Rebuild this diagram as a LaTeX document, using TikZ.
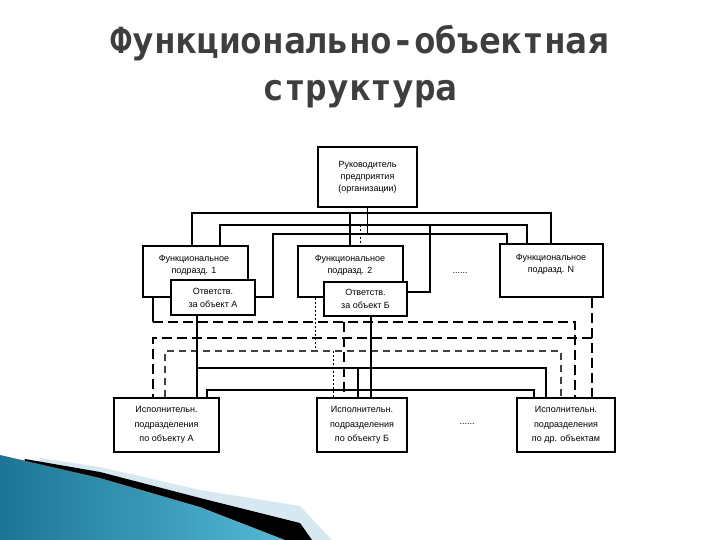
\documentclass[tikz,border=0pt]{standalone}
\usepackage{fontspec}
\setmainfont{Liberation Sans}
\newfontfamily\titlefont{DejaVu Sans Mono}
\usetikzlibrary{backgrounds}
\definecolor{titlegray}{HTML}{3E3E3E}
\definecolor{lightband}{HTML}{D7E8F0}
\definecolor{bluedark}{HTML}{1C7594}
\definecolor{bluelight}{HTML}{55B8D7}
\begin{document}
\begin{tikzpicture}[x=1pt,y=-1pt,
  bigbox/.style={draw, line width=2.2pt, fill=white, inner sep=0pt, align=center,
    font=\fontsize{9}{12}\selectfont},
  resp/.style={draw, line width=1.6pt, fill=white, inner sep=0pt, align=center,
    font=\fontsize{9}{13}\selectfont},
  execbox/.style={draw, line width=2.2pt, fill=white, inner sep=0pt, align=center,
    font=\fontsize{9}{14.5}\selectfont},
  boxtext/.style={align=center, inner sep=0pt, font=\fontsize{9}{12.5}\selectfont},
  titletext/.style={anchor=base, inner sep=0pt, text=titlegray,
    font=\titlefont\bfseries\fontsize{36}{47}\selectfont},
  solidbus/.style={line width=1.6pt},
  thinbus/.style={line width=1.1pt},
  dashbus/.style={line width=1.8pt, dash pattern=on 10pt off 5pt},
  dashlight/.style={line width=1.4pt, draw=black!75, dash pattern=on 7pt off 5pt},
  dotline/.style={line width=1pt, dash pattern=on 2pt off 2pt}]
\useasboundingbox (0,0) rectangle (720,540);

% title
\node[titletext] (title1) at (360,54) {Функционально-объектная};
\node[titletext] (title2) at (360,101) {структура};

% boxes
\node[bigbox, minimum width=99pt, minimum height=60pt] (dir) at (367.5,177)
  {Руководитель\\предприятия\\(организации)};
\node[bigbox, minimum width=105pt, minimum height=51pt] (f1) at (195.5,271.5) {};
\node[boxtext] (f1t) at (194,265.5) {Функциональное\\подразд. 1};
\node[bigbox, minimum width=105pt, minimum height=51pt] (f2) at (350.5,271.5) {};
\node[boxtext] (f2t) at (350,265.5) {Функциональное\\подразд. 2};
\node[bigbox, minimum width=103pt, minimum height=53pt] (fN) at (551.5,270.5) {};
\node[boxtext] (fNt) at (551,264.5) {Функциональное\\подразд. N};
\node[boxtext] (dots1) at (460,273) {......};

\node[resp, minimum width=84pt, minimum height=35pt] (oA) at (213,297.5)
  {Ответств.\\за объект А};
\node[resp, minimum width=83pt, minimum height=34pt] (oB) at (365.5,299)
  {Ответств.\\за объект Б};

\node[execbox, minimum width=105pt, minimum height=54pt] (eA) at (166.5,425)
  {Исполнительн.\\подразделения\\по объекту А};
\node[execbox, minimum width=90pt, minimum height=54pt] (eB) at (362,425)
  {Исполнительн.\\подразделения\\по объекту Б};
\node[execbox, minimum width=98pt, minimum height=54pt] (eO) at (566,425)
  {Исполнительн.\\подразделения\\по др. объектам};
\node[boxtext] (dots2) at (467,424) {......};

\begin{pgfonlayer}{background}
  % decorative wedge
  \fill[lightband] (40,458) -- (100,467) -- (200,490) -- (300,506) -- (332,540) -- (0,540) -- cycle;
  \fill[black] (25,459) -- (100,472) -- (200,498) -- (300,523) -- (312,540) -- (0,540) -- cycle;
  \shade[left color=bluedark, right color=bluelight]
    (0,455) -- (100,478) -- (200,507) -- (285,540) -- (0,540) -- cycle;

  % --- top connectors ---
  \coordinate (b1L) at (192,213); \coordinate (b1R) at (551,213);
  \coordinate (b1M) at (350,213);
  \coordinate (b2L) at (220,225); \coordinate (b2R) at (527,225);
  \coordinate (b2M) at (360,225); \coordinate (b2B) at (430,225);
  \coordinate (b2Bc) at (430,292);
  \coordinate (b3L) at (273,234); \coordinate (b3R) at (507,234);
  \coordinate (b3Ac) at (273,297);

  \draw[solidbus] (dir.south) -- (dir.south |- b3L);
  \draw[solidbus] (f1.north -| b1L) -- (b1L) -- (b1R) -- (fN.north -| b1R);
  \draw[solidbus] (b1M) -- (f2.north -| b1M);
  \draw[thinbus] (f1.north -| b2L) -- (b2L) -- (b2R) -- (fN.north -| b2R);
  \draw[dotline] (b2M) -- (f2.north -| b2M);
  \draw[thinbus] (b2B) -- (b2Bc) -- (oB.east |- b2Bc);
  \draw[solidbus] (oA.east |- b3Ac) -- (b3Ac) -- (b3L) -- (b3R) -- (fN.north -| b3R);

  % --- lower connectors ---
  \coordinate (c1a) at (153,322); \coordinate (c1b) at (575,322);
  \coordinate (c1B) at (344,322);
  \draw[thinbus] (f1.south -| c1a) -- (c1a);
  \draw[dashbus] (c1a) -- (c1b) -- (eO.north -| c1b);
  \draw[dashbus] (c1B) -- (eB.north -| c1B);

  \coordinate (c2R) at (592,338); \coordinate (c2L) at (153,338);
  \draw[dashbus] (fN.south -| c2R) -- (eO.north -| c2R);
  \draw[dashbus] (c2R) -- (c2L) -- (eA.north -| c2L);

  \coordinate (c3a) at (315,351); \coordinate (c3L) at (165,351);
  \coordinate (c3R) at (561,351); \coordinate (c3B) at (333,351);
  \draw[dotline] (f2.south -| c3a) -- (c3a);
  \draw[dashlight] (eA.north -| c3L) -- (c3L) -- (c3R) -- (eO.north -| c3R);
  \draw[dotline] (c3B) -- (eB.north -| c3B);

  \coordinate (d1L) at (197,368); \coordinate (d1R) at (546,368);
  \coordinate (d1B) at (358,368);
  \draw[solidbus] (oA.south -| d1L) -- (eA.north -| d1L);
  \draw[solidbus] (d1L) -- (d1R) -- (eO.north -| d1R);
  \draw[solidbus] (d1B) -- (eB.north -| d1B);

  \coordinate (e1L) at (207,390); \coordinate (e1R) at (534,390);
  \coordinate (e1B) at (371,390);
  \draw[solidbus] (oB.south -| e1B) -- (eB.north -| e1B);
  \draw[solidbus] (eA.north -| e1L) -- (e1L) -- (e1R) -- (eO.north -| e1R);
\end{pgfonlayer}
\end{tikzpicture}
\end{document}
